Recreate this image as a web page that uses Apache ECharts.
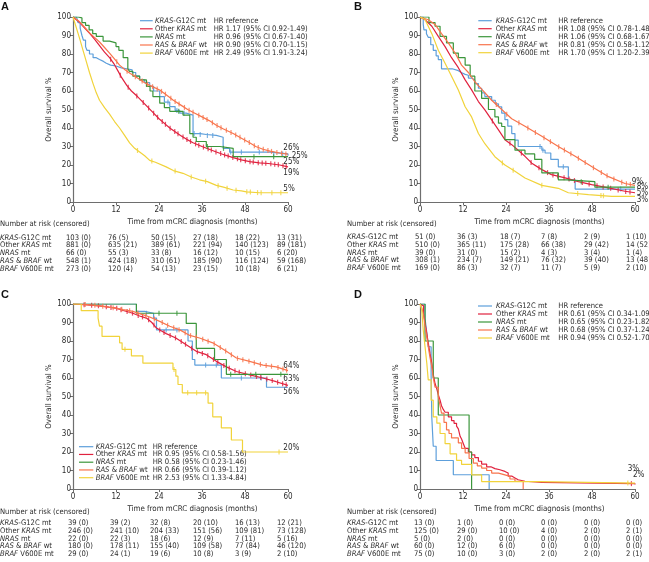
<!DOCTYPE html>
<html><head><meta charset="utf-8">
<script src="https://cdn.jsdelivr.net/npm/echarts@6/dist/echarts.min.js"></script>
<style>html,body{margin:0;padding:0;background:#fff}#c{width:649px;height:562px}</style>
</head><body><div id="c"></div>
<script>
// ---------- shared ----------
const groupsRich = ['{i|KRAS}-G12C mt','Other {i|KRAS} mt','{i|NRAS} mt','{i|RAS} & {i|BRAF} wt','{i|BRAF} V600E mt'];
const groupNames = ['KRAS-G12C mt','Other KRAS mt','NRAS mt','RAS & BRAF wt','BRAF V600E mt'];
const colors = ['#5d9fdb','#e0223f','#3b963b','#f8744c','#f1d33b'];
const xTicks = [0,12,24,36,48,60];
const riskTitle = 'Number at risk (censored)';
const xName = 'Time from mCRC diagnosis (months)';
const yName = 'Overall survival %';

// ---------- panel A ----------
const aG12C = [[0,100],[1.0,99],[1.4,97],[2.0,94],[2.5,90],[2.9,87.5],[3.5,84],[3.9,82],[4.6,80],[5.6,78],[6.5,77],[7.4,76],[8.5,75],[9.3,74],[10.5,73.5],[12,72.5],[13.5,72],[15,71.5],[16.5,70],[17.5,68],[18.6,66],[20,64.5],[21.4,62.5],[22.5,60],[24.2,57],[25.5,54],[27,51.6],[28.5,49.5],[29.8,48],[31.6,47],[33.5,37],[35.5,36.5],[37.2,36],[40,35],[41.9,29],[43.7,27],[55,26],[60,25]];
const aOther = [[0,100],[1.9,97],[3,94.5],[4.7,91],[6,88],[7.4,84.5],[8.8,81],[10.2,78],[11.5,74.5],[12.5,71],[13.5,67.5],[15,63],[16.3,60],[18,57],[19.5,54],[21,51],[22.5,48],[24,45],[25.5,42.5],[27,40],[28.5,38],[30,36],[31.6,34],[33.5,32],[36,30],[38,28.5],[40,27],[42.5,25.3],[44.7,24],[47,22.8],[49.3,21.8],[52,21.2],[54.5,20.8],[57.7,20],[60,19]];
const aNras = [[0,100],[1.4,99.5],[2.5,97],[3.5,95.5],[4.5,93],[5.5,91],[6.5,89.5],[8.4,87],[10.2,86],[12,84],[12.8,82],[14,78],[15.3,72],[15.8,70.6],[16.7,68],[18.6,66],[20.5,62.5],[21.5,60],[22.3,57],[24.2,53.4],[25.5,51],[27,49],[30.7,47],[32.6,37],[33.5,35],[34.4,32.7],[37.2,30],[41,29],[44.7,24.5],[60,24.5]];
const aWt = [[0,100],[1.5,98],[3,95],[4.7,91.3],[6,89],[7.4,86.5],[8.8,83.5],[10.2,80.5],[11.5,77.5],[13,74],[14.5,71.5],[16,69.5],[18,67],[20,64.5],[22,62.5],[24.2,60.5],[26,58],[28,55],[30,52.5],[32,50],[34,48],[36,46],[38,44],[40,41.5],[42,39.5],[44.7,37],[47,34.5],[49.3,32],[51,30],[53,28.5],[55,27.5],[57.7,26.5],[60,25.8]];
const aBraf = [[0,100],[0.8,95],[1.9,88],[2.8,82],[3.7,76],[4.6,70],[5.6,64],[6.5,59],[7.4,55],[8.8,51],[10.2,47.5],[11.6,43.5],[13,40],[14.4,36],[15.8,32],[17.2,29],[18.6,27],[20,25],[21.4,22.5],[23,21.5],[26,19],[28,17],[30.7,15.5],[33,13.5],[35.3,12],[37.5,11],[40,9],[42,8],[44.7,6.5],[47,6],[48.4,5.5],[52,5],[60,5]];
const aStep = [true,false,true,false,false];
const aCens = [
  [26.5,29,31,33.8,35.5,37.5,39,44,47,52,56,58.5],
  [10.5,13.2,15.4,17.8,19.6,21.1,22.5,23.6,24.9,25.8,27.1,28.4,29.3,30.7,31.8,32.8,34.2,35.1,36.4,37.7,38.6,39.9,41.2,42.3,43.3,44.6,45.9,46.8,48.1,49.4,50.3,51.7,52.8,53.8,55.2,56.3,57.3,58.6,59.5],
  [29.5,37.5,42,50.5,56],
  [12.2,15.1,17.4,19.3,20.8,22.2,23.5,24.7,25.8,27.3,28.5,29.6,31.1,32.4,33.5,35.1,36.3,37.4,38.9,40.2,41.3,42.8,44.1,45.4,46.6,47.9,49.2,50.6,51.7,53.1,54.4,55.4,56.9,58.2,59.4],
  [18,22,28.5,33,37,40.5,43,45.5,48.5,49.5,51.5,52.5,55.5,58]
];
const hrA = ['HR reference','HR 1.17 (95% CI 0.92-1.49)','HR 0.96 (95% CI 0.67-1.40)','HR 0.90 (95% CI 0.70-1.15)','HR 2.49 (95% CI 1.91-3.24)'];
const riskA = [
  ['103 (0)','76 (5)','50 (15)','27 (18)','18 (22)','13 (31)'],
  ['881 (0)','635 (21)','389 (61)','221 (94)','140 (123)','89 (181)'],
  ['66 (0)','55 (3)','33 (8)','16 (12)','10 (15)','6 (20)'],
  ['548 (1)','424 (18)','310 (61)','185 (90)','116 (124)','59 (168)'],
  ['273 (0)','120 (4)','54 (13)','23 (15)','10 (18)','6 (21)']
];
const endA = ['26%','25%','25%','19%','5%'];

// ---------- panel B ----------
const bG12C = [[0,100],[0.9,96],[1.1,93],[1.8,91],[2.3,89],[3,85],[3.7,82],[4.5,79],[5.1,77],[6,72],[9,71],[10.7,70],[11.5,69],[12.6,68.5],[13.5,67],[14.4,66],[15.3,64],[16.3,61.5],[17.2,59],[18.1,57],[20,55],[21,53],[21.9,51.5],[22.8,48],[23.7,44.5],[24.5,41],[25.6,37],[26.5,33.5],[27.4,30],[33,30],[34,28],[34.9,26.5],[36.5,23],[38.6,19],[41.4,12],[43.3,7],[60,7]];
const bOther = [[0,100],[1.4,98.5],[3.3,95],[5.1,89.5],[7,84],[8.8,78],[10.7,72.6],[12.6,66],[14.4,60.6],[16.3,54.3],[18.1,49.8],[20,44.4],[21.9,39],[23.7,33.7],[25.6,31],[27.4,28],[29.3,24.7],[31.2,21],[34,17.5],[36.7,14.8],[40.5,13],[44.2,11],[47.9,9.4],[52.6,7.6],[57.2,5.8],[60,5]];
const bNras = [[0,100],[2.5,97],[4.2,95],[5.6,89.5],[7.4,86],[9.3,80.5],[10.7,78],[12.6,74],[14,68],[15.3,60],[17.2,56],[19.1,50],[20.9,46],[21.9,42.6],[22.8,40.8],[23.7,33.7],[26.5,28],[29.3,26],[32,23],[34,15.7],[38.6,12],[41,11],[48.8,8],[60,8]];
const bWt = [[0,100],[2.3,98.5],[4.2,96],[6,91],[7.9,86],[9.8,80.5],[11.6,74],[13.5,70],[15.3,65],[17.2,61],[20,55],[22.8,50],[25.6,45],[29.3,41],[34,35.5],[38.6,30],[43.3,24.7],[48,19],[52.6,13.7],[57.2,10],[60,9]];
const bBraf = [[0,100],[1.4,98.6],[3.3,91],[5.1,82],[7,75],[8.8,68],[10.7,60.5],[12.6,51.5],[14.4,46],[16.3,37],[18.1,31.5],[20.9,24.5],[23.7,20],[26.5,16.6],[29.3,13],[34,9],[38.6,7.4],[41.4,5],[47,4],[53.5,3],[60,3]];
const bStep = [true,false,true,false,false];
const bCens = [
  [33.5,34.3,40,56],
  [20.2,25.1,28.3,31,33.2,35.6,37.1,38.4,40.2,41.6,43.1,45.3,47.2,49.4,51.1,53.2,55.3,57.4,58.6],
  [45,52.5],
  [21.3,24.2,27.6,30.1,32.2,34.6,36.4,38.7,40.3,42.1,44.2,46.1,48.4,50.6,52.2,54.1,56.3,57.6,58.7],
  [23,26,34,44,50.5,51.2]
];
const hrB = ['HR reference','HR 1.08 (95% CI 0.78-1.48)','HR 1.06 (95% CI 0.68-1.67)','HR 0.81 (95% CI 0.58-1.12)','HR 1.70 (95% CI 1.20-2.39)'];
const riskB = [
  ['51 (0)','36 (3)','18 (7)','7 (8)','2 (9)','1 (10)'],
  ['510 (0)','365 (11)','175 (28)','66 (38)','29 (42)','14 (52)'],
  ['39 (0)','31 (0)','15 (2)','4 (3)','3 (4)','1 (4)'],
  ['308 (1)','234 (7)','149 (21)','76 (32)','39 (40)','13 (48)'],
  ['169 (0)','86 (3)','32 (7)','11 (7)','5 (9)','2 (10)']
];
const endB = ['9%','8%','5%','3%'];

// ---------- panel C ----------
const cG12C = [[0,100],[17.7,96],[20,95],[22.5,92.4],[23.3,86],[31.5,86],[32.1,80],[33.3,70],[34,67],[38,67],[41.4,60],[52,60],[54,55],[60,55]];
const cOther = [[0,100],[4,99.5],[7.4,99],[10,98.3],[12,97.8],[14,96.5],[16.7,95],[18.6,93.5],[20.5,92.4],[22,90],[23.3,87],[24.6,85.5],[26,84],[28.7,81.6],[31.6,78],[34.4,74.4],[37.2,72.6],[40,69],[42.8,66],[45.6,63.5],[49.3,61.7],[53,60],[56.7,58],[60,56]];
const cNras = [[0,100],[17.7,95],[31.6,89.5],[34.4,76],[39.5,70],[42.8,62],[60,62]];
const cWt = [[0,100],[4,99.7],[7.4,99],[10,98.3],[12,97.8],[14,97],[16.7,96],[19,94.5],[21.4,93],[24.2,90.6],[27,88],[29.8,86],[32.6,83],[35.3,81.6],[39,79],[42.8,74.4],[45.6,70.8],[49.3,69],[53,67],[56.7,66],[60,64]];
const cBraf = [[0,100],[2.3,96.4],[7,92.4],[7.4,88],[8.1,82.5],[13,79],[13.7,75.5],[16.3,72],[19.5,68],[27.9,64.6],[28.7,61],[29.3,56.5],[30.5,52],[37.7,46.4],[39,39],[41.4,33],[44.2,26.5],[47.3,20],[60,20]];
const cStep = [true,false,true,false,true];
const cCens = [
  [20.5,26,29,37,40,47,52.5],
  [3.1,5.2,7.1,9.3,10.6,12.2,13.4,15.1,16.6,18.2,19.4,21.1,22.6,24.2,25.4,27.1,28.6,30.2,31.4,33.1,34.7,36.1,37.6,39.2,40.4,42.1,43.6,45.2,46.4,48.1,49.6,51.2,52.4,54.1,55.6,57.1,58.5,59.5],
  [24,29,44,51,58],
  [3.4,6.1,8.3,11.2,13.6,15.8,18.1,20.3,22.7,24.9,26.4,28.1,29.6,31.3,32.8,34.4,36.2,37.7,39.4,41.1,42.6,44.2,45.9,47.4,49.1,50.6,52.3,53.9,55.4,57.2,58.6,59.6],
  [14.5,28.2,32,34.5,37,57.5]
];
const hrC = ['HR reference','HR 0.95 (95% CI 0.58-1.56)','HR 0.58 (95% CI 0.23-1.46)','HR 0.66 (95% CI 0.39-1.12)','HR 2.53 (95% CI 1.33-4.84)'];
const riskC = [
  ['39 (0)','39 (2)','32 (8)','20 (10)','16 (13)','12 (21)'],
  ['246 (0)','241 (10)','204 (33)','151 (56)','109 (81)','73 (128)'],
  ['22 (0)','22 (3)','18 (6)','12 (9)','7 (11)','5 (16)'],
  ['180 (0)','178 (11)','155 (40)','109 (58)','77 (84)','46 (120)'],
  ['29 (0)','24 (1)','19 (6)','10 (8)','3 (9)','2 (10)']
];
const endC = ['64%','63%','56%','20%'];

// ---------- panel D ----------
const dG12C = [[0,100],[1.4,92.3],[1.9,84.6],[2.3,76.9],[3.1,61.5],[3.3,38.5],[3.7,23.1],[4.5,15.4],[9.3,7.7],[19.3,0]];
const dOther = [[0,100],[0.5,99],[1,95],[1.4,90],[1.9,84],[2.3,79],[2.8,73],[3.3,68],[3.7,62],[4.2,57],[4.7,54],[5.1,51],[5.6,48],[6,45],[6.5,43],[7,41.5],[7.9,39],[8.8,37],[9.5,35.5],[10.2,34],[10.7,32.5],[11.2,28.5],[11.6,27],[12.1,24.5],[12.6,22],[13.5,20],[14.4,18.5],[15.3,17],[16.3,15],[17.2,13.5],[18.6,12],[19.8,11],[20.9,10.4],[22.3,9.5],[23.7,8.6],[24.6,7],[25.6,6],[26.5,5],[27.4,4.2],[29.3,3.6],[34,2.9],[60,2.5]];
const dNras = [[0,100],[1.4,80],[3.7,60],[5.1,40],[13.7,20],[14.4,0]];
const dWt = [[0,100],[0.5,98],[1,94],[1.4,88],[1.9,82],[2.3,77],[2.8,71],[3.3,66],[3.7,60],[4.2,55],[5.1,50],[5.6,45],[6,41],[6.7,36],[7.4,32],[8.1,30],[8.8,27.6],[10.7,24.9],[11.6,22],[12.6,19.5],[13.7,16.5],[14.9,14],[16,12.5],[17.2,11.3],[18.6,10],[20,8.6],[21.9,7.6],[23.7,6.8],[25.1,5.4],[26.5,4.1],[28.8,0]];
const dBraf = [[0,100],[0.5,97],[0.9,86],[1.4,77],[1.9,68],[2.3,59],[3.1,48],[3.7,39],[4.7,35.6],[5.6,30],[7,24.5],[8.4,19],[10.2,15.5],[11.6,13.3],[14.4,7.6],[17.2,4],[33,3.2],[60,3.2]];
const dStep = [true,true,true,true,true];
const dCens = [[],[59],[],[],[58]];
const hrD = ['HR reference','HR 0.61 (95% CI 0.34-1.09)','HR 0.65 (95% CI 0.23-1.82)','HR 0.68 (95% CI 0.37-1.24)','HR 0.94 (95% CI 0.52-1.70)'];
const riskD = [
  ['13 (0)','1 (0)','0 (0)','0 (0)','0 (0)','0 (0)'],
  ['125 (0)','29 (0)','10 (0)','4 (0)','2 (0)','2 (1)'],
  ['5 (0)','2 (0)','0 (0)','0 (0)','0 (0)','0 (0)'],
  ['60 (0)','12 (0)','6 (0)','0 (0)','0 (0)','0 (0)'],
  ['75 (0)','10 (0)','3 (0)','2 (0)','2 (0)','2 (1)']
];
const endD = ['3%','2%'];

// ---------- build ----------
const FONT = '"Liberation Sans Narrow","DejaVu Sans Condensed","Liberation Sans",Arial,sans-serif';
const FS = 7.6;
const FS_TICK = 8;
const FS_NAME = 7.9;
const TXT = '#2b2b2b';

function valAt(d, t, step){
  let y = d[0][1];
  for (let i=0;i<d.length;i++){
    if (d[i][0] <= t) y = d[i][1];
    else {
      if (!step && i>0){ const a=d[i-1], b=d[i]; y = a[1] + (b[1]-a[1])*(t-a[0])/(b[0]-a[0]); }
      break;
    }
  }
  return y;
}

const panels = [
  {curves:[aG12C,aOther,aNras,aWt,aBraf], step:aStep, cens:aCens, grid:{left:73, top:17}},
  {curves:[bG12C,bOther,bNras,bWt,bBraf], step:bStep, cens:bCens, grid:{left:420, top:17}},
  {curves:[cG12C,cOther,cNras,cWt,cBraf], step:cStep, cens:cCens, grid:{left:73, top:304}},
  {curves:[dG12C,dOther,dNras,dWt,dBraf], step:dStep, cens:dCens, grid:{left:420, top:304}}
];

const grids=[], xAxes=[], yAxes=[], series=[];
const axisColor = '#6e6e6e';
panels.forEach((p, idx)=>{
  grids.push({left:p.grid.left, top:p.grid.top, width:215, height:185});
  xAxes.push({gridIndex:idx, type:'value', min:0, max:60, interval:12,
    axisLine:{lineStyle:{color:axisColor, width:1.2}}, axisTick:{length:3, lineStyle:{color:axisColor}},
    axisLabel:{fontSize:FS_TICK, fontFamily:FONT, color:TXT, margin:4}, splitLine:{show:false},
    name:xName, nameLocation:'middle', nameGap:16,
    nameTextStyle:{fontSize:FS_NAME, fontFamily:FONT, color:TXT, padding:[0,0,0,24]}});
  yAxes.push({gridIndex:idx, type:'value', min:0, max:100, interval:10,
    axisLine:{show:true, lineStyle:{color:axisColor, width:1.2}}, axisTick:{show:true, length:3, lineStyle:{color:axisColor}},
    axisLabel:{fontSize:FS_TICK, fontFamily:FONT, color:TXT, margin:2}, splitLine:{show:false},
    name:yName, nameLocation:'middle', nameGap:18,
    nameTextStyle:{fontSize:FS_NAME, fontFamily:FONT, color:TXT}});
  p.curves.forEach((d,k)=>{
    series.push({type:'line', name:groupNames[k], xAxisIndex:idx, yAxisIndex:idx, data:d,
      step:p.step[k]?'end':false, symbol:'none', showSymbol:false, silent:true, animation:false,
      lineStyle:{color:colors[k], width:1.2}, itemStyle:{color:colors[k]}, z:2+k});
    if (p.cens[k].length){
      series.push({type:'scatter', xAxisIndex:idx, yAxisIndex:idx, silent:true, animation:false,
        data:p.cens[k].map(t=>[t, valAt(d,t,p.step[k])]),
        symbol:'rect', symbolSize:[1.2,5], itemStyle:{color:colors[k]}, z:2+k});
    }
  });
});

const rich = {i:{fontStyle:'italic', fontSize:FS, fontFamily:FONT, fill:TXT, color:TXT}};
function T(x,y,text,st){
  return {type:'text', x:x, y:y, silent:true,
    style:Object.assign({text:text, fontSize:FS, fontFamily:FONT, fill:TXT, verticalAlign:'middle', align:'left', rich:rich}, st||{})};
}
function L(x1,x2,y,c){
  return {type:'line', silent:true, shape:{x1:x1,y1:y,x2:x2,y2:y}, style:{stroke:c, lineWidth:1.2}};
}
const G = [];
// panel letters
[['A',1,7],['B',354,7],['C',1,295],['D',354,295]].forEach(a=>G.push(T(a[1],a[2],a[0],{fontSize:11, fontWeight:'bold', fontFamily:'"Liberation Sans",Arial,sans-serif', fill:'#111'})));

// legends
function legend(lx1,lx2,nameX,hrX,y0,dy,hr){
  for(let k=0;k<5;k++){
    const y=y0+k*dy;
    G.push(L(lx1,lx2,y,colors[k]));
    G.push(T(nameX,y,groupsRich[k]));
    G.push(T(hrX,y,hr[k]));
  }
}
legend(140,152.7,155,213.7,20.7,8.1,hrA);
legend(478.3,491.7,495.7,558.3,20.7,8.0,hrB);
legend(79,93.3,95.7,152.7,446.7,7.75,hrC);
legend(478,492,496,558.3,306,8.0,hrD);

// risk tables
function riskTable(labelX, cols, titleY, rowY, risk){
  G.push(T(labelX,titleY,riskTitle));
  for(let k=0;k<5;k++){
    G.push(T(labelX,rowY[k],groupsRich[k]));
    for(let j=0;j<6;j++) G.push(T(cols[j],rowY[k],risk[k][j]));
  }
}
riskTable(0,[66,108,151,193,235,277],224,[237.7,245.5,253.2,261,268.6],riskA);
riskTable(347,[415,457,500,541,584,626],224,[237.2,244.9,252.6,260.3,268],riskB);
riskTable(0,[68,110,150,193,235,277],511.7,[523,530.8,538.6,546.3,554],riskC);
riskTable(347,[414,457,499,541,584,626],511.7,[522.8,530.7,538.6,546.3,554],riskD);

// end-of-curve percentages
[[283.3,148.3],[291.7,156],[283.3,161.7],[283.3,173.3],[283.3,189]].forEach((p,i)=>G.push(T(p[0],p[1],endA[i],{fontSize:FS_TICK})));
[[631.7,181.7],[636.7,186.8],[636.7,193.3],[636.7,200]].forEach((p,i)=>G.push(T(p[0],p[1],endB[i],{fontSize:FS_TICK})));
[[283.3,365.7],[283.3,379],[283.3,392.3],[283.3,448.3]].forEach((p,i)=>G.push(T(p[0],p[1],endC[i],{fontSize:FS_TICK})));
[[627.7,469.3],[633,475]].forEach((p,i)=>G.push(T(p[0],p[1],endD[i],{fontSize:FS_TICK})));

const chart = echarts.init(document.getElementById('c'), null, {renderer:'canvas'});
chart.setOption({
  animation:false,
  backgroundColor:'#fff',
  grid:grids, xAxis:xAxes, yAxis:yAxes, series:series, graphic:G
});
</script></body></html>
